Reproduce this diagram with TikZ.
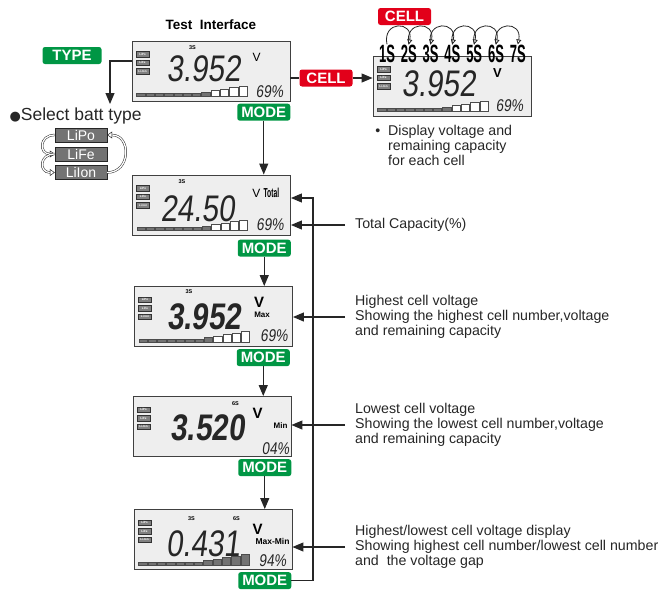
\documentclass[tikz,border=0pt]{standalone}
\usepackage{fontspec}
\setmainfont{Liberation Sans}
\newfontfamily\lcdfont[FakeSlant=0.12,FakeStretch=0.8]{Liberation Sans}
\newfontfamily\cellfont[FakeStretch=0.52]{Liberation Sans}
\newfontfamily\symfont{DejaVu Sans}
\usepackage{tikz}
\usetikzlibrary{calc,positioning,arrows.meta}

\definecolor{modegreen}{RGB}{0,150,68}
\definecolor{cellred}{RGB}{226,0,26}
\definecolor{lcdgray}{RGB}{238,238,238}
\definecolor{segfill}{RGB}{115,115,115}

\tikzset{
  arr/.style={draw=black!85, line width=1.1pt, -{Triangle[length=11pt,width=9pt]}},
  hop/.style={draw=black!85, line width=0.8pt, -{Triangle[open,length=5pt,width=5pt]}},
  hollow/.style={draw=black!85, double=white, double distance=1.3pt, line width=0.5pt, -{Triangle[open,length=5pt,width=7pt]}},
  lcd/.style={draw=black!75, fill=lcdgray, line width=0.9pt, minimum width=158pt, minimum height=60pt, inner sep=0},
  lcdtype/.style={draw=black!80, fill=black!50, text=white, font=\fontsize{3}{3}\selectfont\bfseries, minimum width=13pt, minimum height=5.5pt, inner sep=0},
  lcdbig/.style={font=\lcdfont\fontsize{37}{37}\selectfont, text=black!85, inner sep=0},
  lcdpct/.style={font=\lcdfont\fontsize{17}{17}\selectfont, text=black!85, inner sep=0},
  lcdsmall/.style={font=\fontsize{5.5}{5.5}\selectfont\bfseries, inner sep=0},
  lcdtag/.style={font=\fontsize{8}{8}\selectfont\bfseries, inner sep=0},
  barseg/.style={draw=black!70, line width=0.4pt},
  badge/.style={text=white, font=\fontsize{15}{15}\selectfont\bfseries, rounded corners=2.5pt, minimum height=17pt, minimum width=53pt, inner ysep=0, inner xsep=3pt},
  modebadge/.style={badge, fill=modegreen},
  cellbadge/.style={badge, fill=cellred},
  typebox/.style={draw=black!85, fill=black!55, text=white, font=\fontsize{14}{14}\selectfont, minimum width=52pt, minimum height=14pt, inner sep=0},
  cellno/.style={font=\cellfont\bfseries\fontsize{25}{25}\selectfont, inner sep=0},
  note/.style={font=\fontsize{14.2}{15}\selectfont, align=left, inner sep=0, text=black!85},
}

\newcommand\lcdtypes[1]{%
  \foreach \t [count=\k] in {LiPo,LiFe,Li-Ion}
    \node[lcdtype] (#1-type\k) at ($(#1.north west)+(11,{-5-8.5*\k})$) {\t};}

\newcommand\lcdbar[2]{%
  \foreach \i in {1,...,12}{%
    \pgfmathsetmacro\segh{max(3,3+(\i-7)*1.5)}%
    \ifnum\i>#2 \def\segcol{white}\else\def\segcol{segfill}\fi
    \draw[barseg, fill=\segcol] ($(#1.south west)+({5+(\i-1)*9.3},5)$) rectangle +(8.3,\segh);
  }}

\begin{document}
\begin{tikzpicture}[x=1pt,y=1pt]
  \useasboundingbox (0,0) rectangle (669,-589);

  \node[font=\fontsize{13.5}{13.5}\selectfont\bfseries] (title) at (211,-25) {Test\ \ Interface};
  \node[lcd] (test) at (211,-71) {};
  \lcdtypes{test}
  \node[lcdsmall] (test-n) at ($(test.north west)+(61,-7)$) {3S};
  \node[lcdbig] (test-volt) at ($(test.north west)+(72,-28.5)$) {3.952};
  \node[font=\fontsize{12}{12}\selectfont, inner sep=0] (test-v) at ($(test.north west)+(125,-17)$) {V};
  \node[lcdpct] (test-pct) at ($(test.north west)+(138,-51)$) {69\%};
  \lcdbar{test}{8}

  \node[modebadge, text width=59pt, align=center, minimum width=0pt, inner xsep=0pt] (type) at (72,-55.5) {TYPE};
  \coordinate (typedrop) at (110,-104);
  \draw[arr] ([yshift=10pt]test.west) -| (typedrop);

  \node[anchor=west, font=\fontsize{17.5}{17.5}\selectfont, text=black!85] (select) at (6,-116) {{\symfont\fontsize{13}{13}\selectfont ●}Select batt type};
  \node[typebox] (lipo) at (81,-135) {LiPo};
  \node[typebox] (life) at (81,-154) {LiFe};
  \node[typebox] (liion) at (81,-172.5) {LiIon};
  \draw[hollow] (lipo.west) .. controls +(-16,0) and +(-16,0) .. (life.west);
  \draw[hollow] (life.west) .. controls +(-16,0) and +(-16,0) .. (liion.west);
  \draw[hollow] (liion.east) .. controls +(24,0) and +(24,0) .. (lipo.east);

  \node[cellbadge] (cell) at (326,-78) {CELL};
  \node[lcd] (cellview) at (452,-86) {};
  \lcdtypes{cellview}
  \node[lcdbig] (cellview-volt) at ($(cellview.north west)+(66,-28)$) {3.952};
  \node[font=\fontsize{13}{13}\selectfont\bfseries, inner sep=0] (cellview-v) at ($(cellview.north west)+(125,-17)$) {V};
  \node[lcdpct] (cellview-pct) at ($(cellview.north west)+(137,-50)$) {69\%};
  \lcdbar{cellview}{8}
  \draw[line width=1.1pt, draw=black!85] (test.east |- cell) -- (cell);
  \draw[arr] (cell) -- (cell -| cellview.west);

  \foreach \n in {1,...,7}
    \node[cellno] (s\n) at ({387+21.8*(\n-1)},-53.5) {\n S};
  \foreach \n [remember=\n as \p (initially 1)] in {2,...,7}
    \draw[hop] (s\p.north) .. controls +(-5,24) and +(5,24) .. (s\n.north);
  \node[cellbadge] (celltop) at (404.5,-16.5) {CELL};
  \node[note, anchor=west] (cellnote) at (388,-145.5) {\llap{\textbullet\ \ }Display voltage and\\remaining capacity\\for each cell};

  \node[modebadge, below left=2pt and 0pt of test.south east] (mode1) {MODE};
  \node[lcd] (total) at (211.5,-205) {};
  \draw[arr] (mode1) -- (mode1 |- total.north);
  \lcdtypes{total}
  \node[lcdsmall] (total-n) at ($(total.north west)+(50,-7)$) {3S};
  \node[lcdbig] (total-volt) at ($(total.north west)+(65.5,-34)$) {24.50};
  \node[inner sep=0, anchor=west] (total-v) at ($(total.north west)+(120,-18)$) {\fontsize{12}{12}\selectfont V {\cellfont\bfseries\fontsize{13}{13}\selectfont Total}};
  \node[lcdpct] (total-pct) at ($(total.north west)+(138,-50)$) {69\%};
  \lcdbar{total}{8}

  \node[modebadge, below left=4pt and 0pt of total.south east] (mode2) {MODE};
  \node[lcd] (maxv) at (213.5,-316.5) {};
  \draw[arr] (mode2) -- (mode2 |- maxv.north);
  \lcdtypes{maxv}
  \node[lcdsmall] (maxv-n) at ($(maxv.north west)+(55,-6)$) {3S};
  \node[lcdbig, font=\lcdfont\bfseries\fontsize{37}{37}\selectfont] (maxv-volt) at ($(maxv.north west)+(70,-30.5)$) {3.952};
  \node[font=\fontsize{15}{15}\selectfont\bfseries, inner sep=0] (maxv-v) at ($(maxv.north west)+(125,-16)$) {V};
  \node[lcdtag] (maxv-tag) at ($(maxv.north west)+(128,-29)$) {Max};
  \node[lcdpct] (maxv-pct) at ($(maxv.north west)+(140,-50)$) {69\%};
  \lcdbar{maxv}{8}

  \node[modebadge, below left=2pt and 3pt of maxv.south east] (mode3) {MODE};
  \node[lcd] (minv) at (212,-426.5) {};
  \draw[arr] (mode3) -- (mode3 |- minv.north);
  \lcdtypes{minv}
  \node[lcdsmall] (minv-n) at ($(minv.north west)+(103,-8)$) {6S};
  \node[lcdbig, font=\lcdfont\bfseries\fontsize{37}{37}\selectfont] (minv-volt) at ($(minv.north west)+(75,-31.5)$) {3.520};
  \node[font=\fontsize{15}{15}\selectfont\bfseries, inner sep=0] (minv-v) at ($(minv.north west)+(125,-17)$) {V};
  \node[lcdtag] (minv-tag) at ($(minv.north west)+(148,-30)$) {Min};
  \node[lcdpct] (minv-pct) at ($(minv.north west)+(143,-53)$) {04\%};

  \node[modebadge, below left=2pt and 0pt of minv.south east] (mode4) {MODE};
  \node[lcd] (diffv) at (213,-539.5) {};
  \draw[arr] (mode4) -- (mode4 |- diffv.north);
  \lcdtypes{diffv}
  \node[lcdsmall] (diffv-n1) at ($(diffv.north west)+(58,-10)$) {3S};
  \node[lcdsmall] (diffv-n2) at ($(diffv.north west)+(103,-10)$) {6S};
  \node[lcdbig] (diffv-volt) at ($(diffv.north west)+(69.5,-35)$) {0.431};
  \node[font=\fontsize{15}{15}\selectfont\bfseries, inner sep=0] (diffv-v) at ($(diffv.north west)+(124,-20)$) {V};
  \node[lcdtag, font=\fontsize{8.5}{8.5}\selectfont\bfseries] (diffv-tag) at ($(diffv.north west)+(139,-32)$) {Max-Min};
  \node[lcdpct] (diffv-pct) at ($(diffv.north west)+(139,-52)$) {94\%};
  \lcdbar{diffv}{12}

  \node[modebadge, below left=2pt and 1pt of diffv.south east] (mode5) {MODE};
  \coordinate (loopback) at (313,-198);
  \draw[arr] (mode5.east) -| (loopback) -- (loopback -| total.east);

  \node[note, anchor=west] (capnote) at (355,-225) {Total Capacity(\%)};
  \node[note, anchor=west] (maxnote) at (355,-317) {Highest cell voltage\\Showing the highest cell number,voltage\\and remaining capacity};
  \node[note, anchor=west] (minnote) at (355,-425) {Lowest cell voltage\\Showing the lowest cell number,voltage\\and remaining capacity};
  \node[note, anchor=west] (diffnote) at (355,-547) {Highest/lowest cell voltage display\\Showing highest cell number/lowest cell number\\and\ \ the voltage gap};
  \draw[arr] ([xshift=-10pt]capnote.west) -- (capnote.west -| total.east);
  \draw[arr] ([xshift=-10pt]maxnote.west) -- (maxnote.west -| maxv.east);
  \draw[arr] ([xshift=-10pt]minnote.west) -- (minnote.west -| minv.east);
  \draw[arr] ([xshift=-10pt]diffnote.west) -- (diffnote.west -| diffv.east);
\end{tikzpicture}
\end{document}
